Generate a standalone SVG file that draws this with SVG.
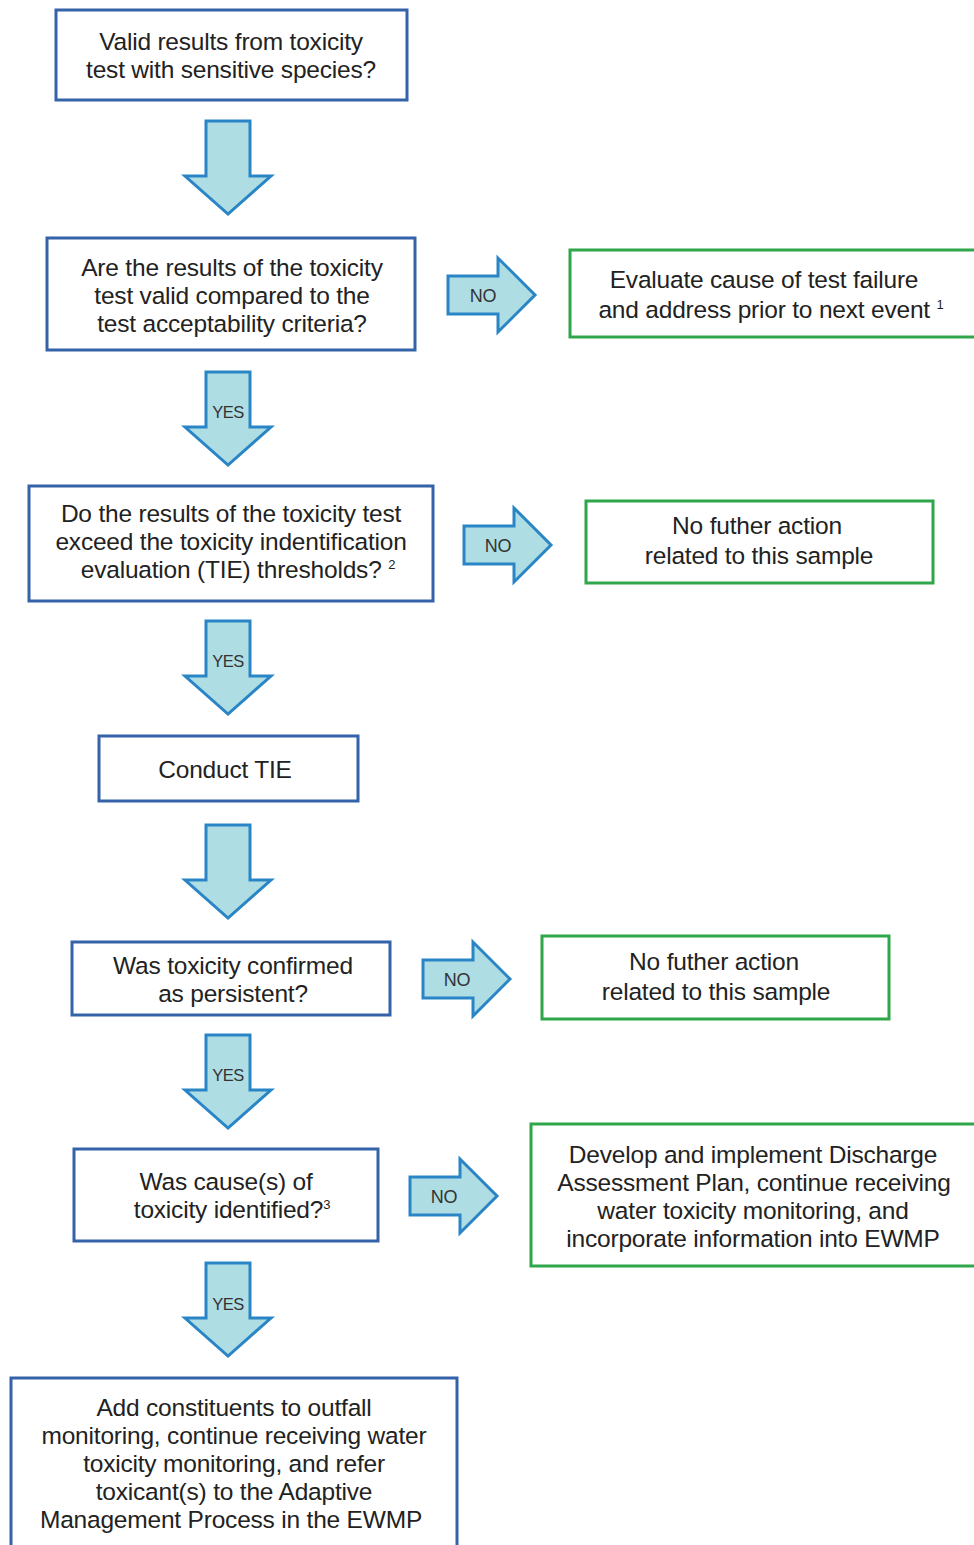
<svg xmlns="http://www.w3.org/2000/svg" width="974" height="1545" viewBox="0 0 974 1545">
<style>
.bx{fill:#fff;stroke:#3563a9;stroke-width:3}
.gb{fill:#fff;stroke:#2fa64a;stroke-width:3}
.ar{fill:#aedde3;stroke:#2a85c6;stroke-width:3;stroke-linejoin:miter}
.t{font-family:"Liberation Sans",Arial,sans-serif;font-size:24.5px;fill:#222;text-anchor:middle;letter-spacing:-0.2px}
.lbl{font-family:"Liberation Sans",Arial,sans-serif;font-size:16.5px;fill:#333;text-anchor:middle;letter-spacing:-0.5px}
.no{font-size:18px;letter-spacing:-0.3px}
.sup{font-size:13px}
</style>
<rect width="974" height="1545" fill="#fff"/>
<g id="connectors">
<path class="ar" d="M206,121 H250 V176 H271 L228,214 L185,176 H206 Z"/>
<g id="yes1"><path class="ar" d="M206,372 H250 V427 H271 L228,465 L185,427 H206 Z"/><text class="lbl" x="228" y="418">YES</text></g>
<g id="yes2"><path class="ar" d="M206,621 H250 V676 H271 L228,714 L185,676 H206 Z"/><text class="lbl" x="228" y="667">YES</text></g>
<path class="ar" d="M206,825 H250 V880 H271 L228,918 L185,880 H206 Z"/>
<g id="yes3"><path class="ar" d="M206,1035 H250 V1090 H271 L228,1128 L185,1090 H206 Z"/><text class="lbl" x="228" y="1081">YES</text></g>
<g id="yes4"><path class="ar" d="M206,1263 H250 V1318 H271 L228,1356 L185,1318 H206 Z"/><text class="lbl" x="228" y="1310">YES</text></g>
<g id="no1"><path class="ar" d="M448,276 H498 V258 L535,295 L498,332 V314 H448 Z"/><text class="lbl no" x="483" y="302">NO</text></g>
<g id="no2"><path class="ar" d="M464,526 H514 V508 L551,545 L514,582 V564 H464 Z"/><text class="lbl no" x="498" y="552">NO</text></g>
<g id="no3"><path class="ar" d="M423,960 H473 V942 L510,979 L473,1016 V998 H423 Z"/><text class="lbl no" x="457" y="986">NO</text></g>
<g id="no4"><path class="ar" d="M410,1177 H460 V1159 L497,1196 L460,1233 V1215 H410 Z"/><text class="lbl no" x="444" y="1203">NO</text></g>
</g>
<g id="n1"><rect class="bx" x="56" y="10" width="351" height="90"/>
<text class="t" x="231" y="50">Valid results from toxicity</text>
<text class="t" x="231" y="78">test with sensitive species?</text></g>
<g id="n2"><rect class="bx" x="47" y="238" width="368" height="112"/>
<text class="t" x="232" y="276">Are the results of the toxicity</text>
<text class="t" x="232" y="304">test valid compared to the</text>
<text class="t" x="232" y="332">test acceptability criteria?</text></g>
<g id="g1"><rect class="gb" x="570" y="250" width="410" height="87"/>
<text class="t" x="764" y="288">Evaluate cause of test failure</text>
<text class="t" x="771" y="318">and address prior to next event <tspan class="sup" dy="-9">1</tspan></text></g>
<g id="n3"><rect class="bx" x="29" y="486" width="404" height="115"/>
<text class="t" x="231" y="522">Do the results of the toxicity test</text>
<text class="t" x="231" y="550">exceed the toxicity indentification</text>
<text class="t" x="238" y="578">evaluation (TIE) thresholds? <tspan class="sup" dy="-9">2</tspan></text></g>
<g id="g2"><rect class="gb" x="586" y="501" width="347" height="82"/>
<text class="t" x="757" y="534">No futher action</text>
<text class="t" x="759" y="564">related to this sample</text></g>
<g id="n4"><rect class="bx" x="99" y="736" width="259" height="65"/>
<text class="t" x="225" y="778">Conduct TIE</text></g>
<g id="n5"><rect class="bx" x="72" y="942" width="318" height="73"/>
<text class="t" x="233" y="974">Was toxicity confirmed</text>
<text class="t" x="233" y="1002">as persistent?</text></g>
<g id="g3"><rect class="gb" x="542" y="936" width="347" height="83"/>
<text class="t" x="714" y="970">No futher action</text>
<text class="t" x="716" y="1000">related to this sample</text></g>
<g id="n6"><rect class="bx" x="74" y="1149" width="304" height="92"/>
<text class="t" x="226" y="1190">Was cause(s) of</text>
<text class="t" x="232" y="1218">toxicity identified?<tspan class="sup" dy="-9">3</tspan></text></g>
<g id="g4"><rect class="gb" x="531" y="1124" width="450" height="142"/>
<text class="t" x="753" y="1163">Develop and implement Discharge</text>
<text class="t" x="754" y="1191">Assessment Plan, continue receiving</text>
<text class="t" x="753" y="1219">water toxicity monitoring, and</text>
<text class="t" x="753" y="1247">incorporate information into EWMP</text></g>
<g id="n7"><rect class="bx" x="11" y="1378" width="446" height="180"/>
<text class="t" x="234" y="1416">Add constituents to outfall</text>
<text class="t" x="234" y="1444">monitoring, continue receiving water</text>
<text class="t" x="234" y="1472">toxicity monitoring, and refer</text>
<text class="t" x="234" y="1500">toxicant(s) to the Adaptive</text>
<text class="t" x="231" y="1528">Management Process in the EWMP</text></g>
</svg>
